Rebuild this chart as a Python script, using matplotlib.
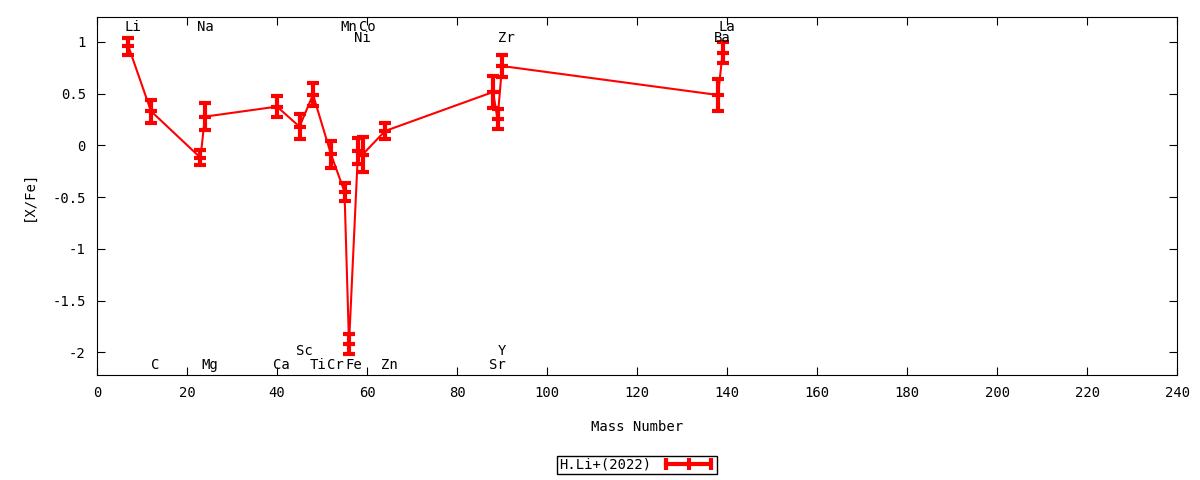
import matplotlib.pyplot as plt
from matplotlib.lines import Line2D
import numpy as np

plt.rcParams['font.family'] = ['DejaVu Sans Mono']

# element labels, mass numbers, [X/Fe] and errors
elements = ['Li', 'C', 'Na', 'Mg', 'Ca', 'Sc', 'Ti', 'Cr', 'Mn', 'Fe',
            'Ni', 'Co', 'Zn', 'Sr', 'Y', 'Zr', 'Ba', 'La']
mass = [7, 12, 23, 24, 40, 45, 48, 52, 55, 56, 58, 59, 64, 88, 89, 90, 138, 139]
xfe = [0.955, 0.33, -0.12, 0.277, 0.374, 0.18, 0.49, -0.087, -0.45, -1.923,
       -0.055, -0.09, 0.138, 0.515, 0.251, 0.766, 0.486, 0.896]
err = [0.084, 0.11, 0.07, 0.13, 0.10, 0.12, 0.115, 0.13, 0.09, 0.097,
       0.125, 0.17, 0.08, 0.153, 0.095, 0.108, 0.156, 0.10]
# label row for each element: 0 top, 1 second from top, 2 bottom-upper, 3 bottom
label_row = [0, 3, 0, 3, 3, 2, 3, 3, 0, 3, 1, 0, 3, 3, 2, 1, 1, 0]
row_y = [1.145, 1.04, -1.985, -2.12]

xticks = [0, 20, 40, 60, 80, 100, 120, 140, 160, 180, 200, 220, 240]
yticks = [1, 0.5, 0, -0.5, -1, -1.5, -2]
ytick_labels = ['1', '0.5', '0', '-0.5', '-1', '-1.5', '-2']

fs = 10

fig = plt.figure(figsize=(12, 4.8), dpi=100)
ax = fig.add_axes([0.0808, 0.21875, 0.9002, 0.74585])

ax.errorbar(mass, xfe, yerr=err, color='red', lw=1.5, elinewidth=3,
            capsize=4, capthick=3, marker='_', markersize=9, mew=3)

for el, m, r in zip(elements, mass, label_row):
    ax.text(m + 1, row_y[r], el, ha='center', va='center', fontsize=fs)

ax.set_xlim(0, 240)
ax.set_ylim(-2.22, 1.24)
ax.set_xticks(xticks)
ax.set_yticks(yticks)
ax.set_yticklabels(ytick_labels)
ax.tick_params(direction='in', length=6, top=True, right=True, labelsize=fs, pad=8)
ax.set_xlabel('Mass Number', fontsize=fs, labelpad=14)
ax.set_ylabel('[X/Fe]', fontsize=fs, labelpad=12)

# gnuplot style key sample: horizontal bar with end and middle ticks
key = Line2D([], [], color='red', lw=3, marker='|', markersize=8, mew=3)
ax.legend([key], ['H.Li+(2022)'], loc='center', bbox_to_anchor=(0.5, -0.251),
          frameon=True, fancybox=False, edgecolor='black', markerfirst=False,
          fontsize=fs, handlelength=3.8, handleheight=0.6, borderpad=0.15,
          numpoints=3, framealpha=1, handletextpad=0.8)

fig.savefig('out.png')
